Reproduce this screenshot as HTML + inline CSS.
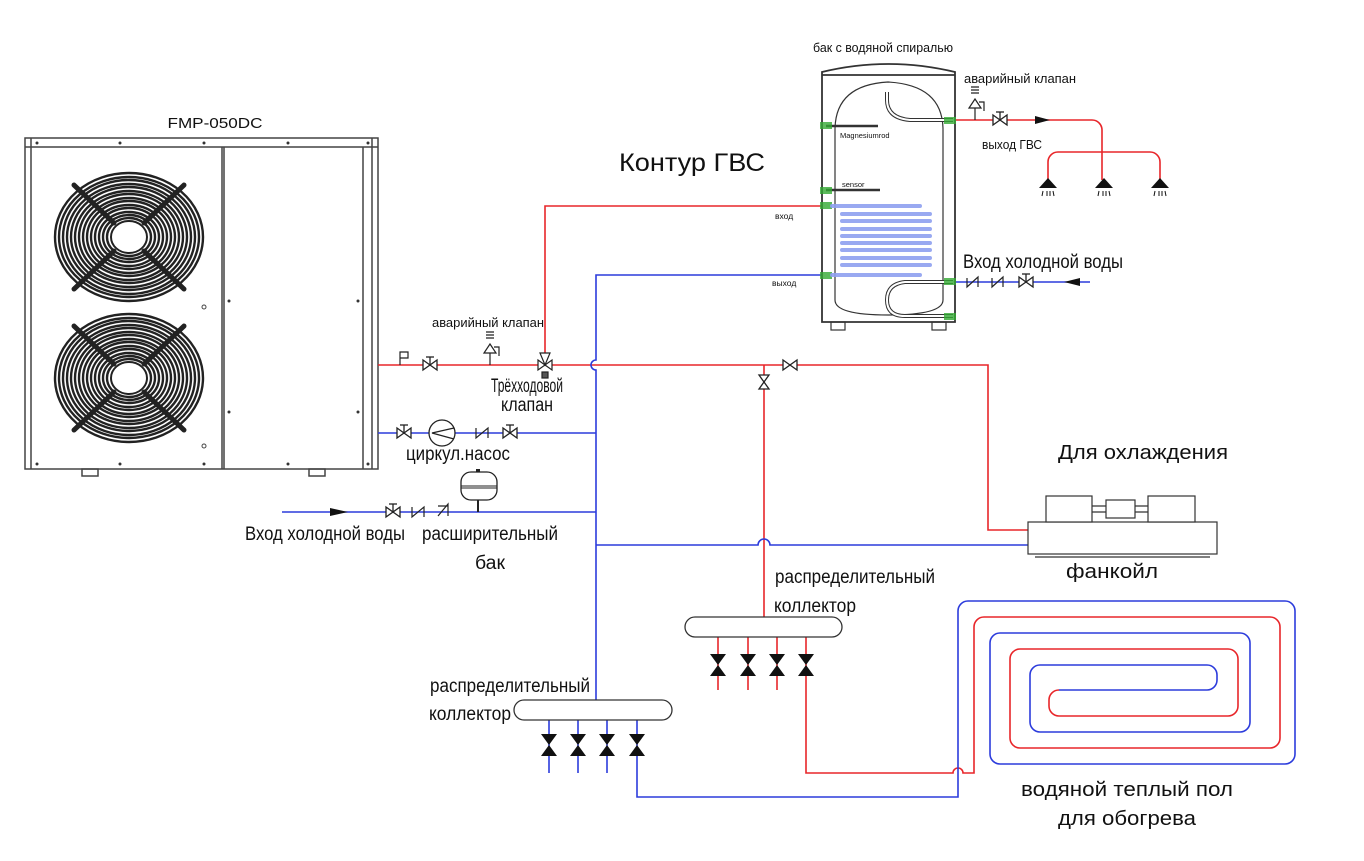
<!DOCTYPE html>
<html><head><meta charset="utf-8"><style>
html,body{margin:0;padding:0;background:#fff;}
svg{display:block;}
text{font-family:"Liberation Sans",sans-serif;fill:#111;}
</style></head><body>
<svg width="1364" height="861" viewBox="0 0 1364 861" xmlns="http://www.w3.org/2000/svg">
<defs>
<g id="fan">
<g fill="none" stroke="#222" stroke-width="2.4">
<ellipse rx="74" ry="64"/><ellipse rx="70" ry="60"/><ellipse rx="66" ry="57"/><ellipse rx="62" ry="53"/><ellipse rx="58" ry="50"/><ellipse rx="54" ry="46"/><ellipse rx="50" ry="43"/><ellipse rx="46" ry="39"/><ellipse rx="42" ry="36"/><ellipse rx="38" ry="32"/><ellipse rx="34" ry="29"/><ellipse rx="30" ry="25"/><ellipse rx="26" ry="22"/><ellipse rx="22" ry="19"/>
</g>
<ellipse rx="18" ry="16" fill="#fff" stroke="#222" stroke-width="2"/>
<g stroke="#222" stroke-width="5" stroke-linecap="round">
<line x1="-55" y1="-52" x2="-15" y2="-14"/><line x1="55" y1="-52" x2="15" y2="-14"/>
<line x1="-55" y1="52" x2="-15" y2="14"/><line x1="55" y1="52" x2="15" y2="14"/>
</g>
</g>
<g id="vh"><path d="M-7,-5 L7,5 L7,-5 L-7,5 Z" fill="#fff" stroke="#222" stroke-width="1.3"/><line x1="0" y1="0" x2="0" y2="-8" stroke="#222" stroke-width="1.3"/><line x1="-4" y1="-8" x2="4" y2="-8" stroke="#222" stroke-width="1.3"/></g>
<g id="bow"><path d="M-7,-5 L7,5 L7,-5 L-7,5 Z" fill="#fff" stroke="#222" stroke-width="1.3"/></g>
<g id="kv"><path d="M-8,-11 L8,-11 L-8,11 L8,11 Z" fill="#111"/></g>
<g id="shower"><path d="M-9,6 L0,-4 L9,6 Z" fill="#111"/><g stroke="#111" stroke-width="1"><line x1="-5" y1="9" x2="-6" y2="14"/><line x1="-1" y1="9" x2="-1" y2="14"/><line x1="2" y1="9" x2="2" y2="14"/><line x1="5" y1="9" x2="6" y2="14"/></g></g>
</defs>

<text x="215" y="128" font-size="15" text-anchor="middle" textLength="95" lengthAdjust="spacingAndGlyphs">FMP-050DC</text>
<g fill="none" stroke="#444" stroke-width="1.5">
<rect x="25" y="138" width="353" height="331"/>
<line x1="25" y1="147" x2="378" y2="147"/>
<line x1="31" y1="138" x2="31" y2="469"/>
<line x1="222" y1="147" x2="222" y2="469"/>
<line x1="224" y1="147" x2="224" y2="469"/>
<line x1="363" y1="147" x2="363" y2="469"/>
<line x1="372" y1="138" x2="372" y2="469"/>
<rect x="82" y="469" width="16" height="7"/>
<rect x="309" y="469" width="16" height="7"/>
</g>
<g fill="#333">
<circle cx="37" cy="143" r="1.5"/><circle cx="120" cy="143" r="1.5"/><circle cx="204" cy="143" r="1.5"/><circle cx="288" cy="143" r="1.5"/><circle cx="368" cy="143" r="1.5"/>
<circle cx="37" cy="464" r="1.5"/><circle cx="120" cy="464" r="1.5"/><circle cx="204" cy="464" r="1.5"/><circle cx="288" cy="464" r="1.5"/><circle cx="368" cy="464" r="1.5"/>
<circle cx="229" cy="301" r="1.5"/><circle cx="358" cy="301" r="1.5"/><circle cx="229" cy="412" r="1.5"/><circle cx="358" cy="412" r="1.5"/>
</g>
<circle cx="204" cy="307" r="2" fill="none" stroke="#444"/><circle cx="204" cy="446" r="2" fill="none" stroke="#444"/>
<use href="#fan" x="129" y="237"/>
<use href="#fan" x="129" y="378"/>

<g fill="none" stroke-width="1.6">
<path d="M378,365 H988 V530 H1028" stroke="#e8262a"/>
<path d="M545,365 V206 H822" stroke="#e8262a"/>
<path d="M764,365 V617" stroke="#e8262a"/>
<path d="M596,700 V370 A5,5 0 0 1 596,360 V275 H822" stroke="#2c3cdc"/>
<path d="M378,433 H596" stroke="#2c3cdc"/>
<path d="M282,512 H596" stroke="#2c3cdc"/>
<path d="M596,545 H758 A6,6 0 0 1 770,545 H1028" stroke="#2c3cdc"/>
<path d="M806,676 V773 H953 A5,5 0 0 1 963,773 H974 V627 A10,10 0 0 1 984,617 H1270 A10,10 0 0 1 1280,627 V738 A10,10 0 0 1 1270,748 H1020 A10,10 0 0 1 1010,738 V659 A10,10 0 0 1 1020,649 H1228 A10,10 0 0 1 1238,659 V706 A10,10 0 0 1 1228,716 H1059 A10,10 0 0 1 1049,706 V700 A10,10 0 0 1 1059,690" stroke="#e8262a"/>
<path d="M637,755 V797 H958 V611 A10,10 0 0 1 968,601 H1285 A10,10 0 0 1 1295,611 V754 A10,10 0 0 1 1285,764 H1000 A10,10 0 0 1 990,754 V643 A10,10 0 0 1 1000,633 H1240 A10,10 0 0 1 1250,643 V722 A10,10 0 0 1 1240,732 H1040 A10,10 0 0 1 1030,722 V675 A10,10 0 0 1 1040,665 H1207 A10,10 0 0 1 1217,675 V680 A10,10 0 0 1 1207,690 H1059" stroke="#2c3cdc"/>
<g stroke="#e8262a"><line x1="718" y1="637" x2="718" y2="690"/><line x1="748" y1="637" x2="748" y2="690"/><line x1="777" y1="637" x2="777" y2="690"/><line x1="806" y1="637" x2="806" y2="676"/></g>
<g stroke="#2c3cdc"><line x1="549" y1="720" x2="549" y2="773"/><line x1="578" y1="720" x2="578" y2="773"/><line x1="607" y1="720" x2="607" y2="773"/><line x1="637" y1="720" x2="637" y2="755"/></g>
<path d="M955,120 H1092 A10,10 0 0 1 1102,130 V180" stroke="#e8262a"/>
<path d="M1048,180 V162 A10,10 0 0 1 1058,152 H1150 A10,10 0 0 1 1160,162 V180" stroke="#e8262a"/>
<path d="M955,282 H1090" stroke="#2c3cdc"/>
</g>
<path d="M1035,116 L1050,120 L1035,124 Z" fill="#111"/>
<path d="M1080,278 L1064,282 L1080,286 Z" fill="#111"/>
<path d="M330,508 L348,512 L330,516 Z" fill="#111"/>

<rect x="685" y="617" width="157" height="20" rx="10" fill="#fff" stroke="#333" stroke-width="1.3"/>
<rect x="514" y="700" width="158" height="20" rx="10" fill="#fff" stroke="#333" stroke-width="1.3"/>
<use href="#kv" x="718" y="665"/><use href="#kv" x="748" y="665"/><use href="#kv" x="777" y="665"/><use href="#kv" x="806" y="665"/>
<use href="#kv" x="549" y="745"/><use href="#kv" x="578" y="745"/><use href="#kv" x="607" y="745"/><use href="#kv" x="637" y="745"/>

<path d="M400,365 V352 H408 V358 H400" fill="none" stroke="#222" stroke-width="1.2"/>
<use href="#vh" x="430" y="365"/>
<g fill="none" stroke="#222" stroke-width="1.2">
<line x1="490" y1="365" x2="490" y2="353"/>
<path d="M484,353 L496,353 L490,344 Z" fill="#fff"/>
<path d="M486,338 H494 M486,335 H494 M486,332 H494"/>
<path d="M494,347 H499 V356"/>
</g>
<g stroke="#222" stroke-width="1.2" fill="#fff"><path d="M538,360 L552,370 L552,360 L538,370 Z"/><path d="M540,353 L550,353 L545,365 Z"/><rect x="542" y="372" width="6" height="6" fill="#555"/></g>
<use href="#vh" x="404" y="433"/>
<circle cx="442" cy="433" r="13" fill="#fff" stroke="#222" stroke-width="1.3"/>
<path d="M454,428 L432,433 L454,439" fill="none" stroke="#222" stroke-width="1.2"/>
<path d="M476,428 L476,438 L488,428 L488,438" fill="none" stroke="#222" stroke-width="1.2"/>
<use href="#vh" x="510" y="433"/>
<use href="#vh" x="393" y="512"/>
<path d="M412,507 L412,517 L424,507 L424,517" fill="none" stroke="#222" stroke-width="1.2"/>
<path d="M438,506 L448,506 M438,516 L448,504 V516" fill="none" stroke="#222" stroke-width="1.2"/>
<line x1="478" y1="500" x2="478" y2="512" stroke="#222" stroke-width="2"/>
<rect x="461" y="472" width="36" height="28" rx="10" fill="#fff" stroke="#222" stroke-width="1.3"/>
<line x1="461" y1="486" x2="497" y2="486" stroke="#222"/><line x1="461" y1="488" x2="497" y2="488" stroke="#222"/>
<rect x="476" y="469" width="4" height="3" fill="#222"/>
<use href="#bow" x="790" y="365"/>
<g transform="translate(764,382) rotate(90)"><use href="#bow"/></g>

<g fill="#fff" stroke="#333" stroke-width="1.2">
<rect x="1028" y="522" width="189" height="32"/>
<rect x="1046" y="496" width="46" height="26"/>
<rect x="1148" y="496" width="47" height="26"/>
<line x1="1092" y1="506" x2="1148" y2="506"/><line x1="1092" y1="512" x2="1148" y2="512"/>
<rect x="1106" y="500" width="29" height="18"/>
<line x1="1035" y1="557" x2="1210" y2="557"/>
</g>

<g fill="none" stroke="#333" stroke-width="1.8">
<path d="M822,322 V72 Q888,56 955,72 V322 Z" fill="#fff"/>
<line x1="822" y1="75" x2="955" y2="75"/>
<path d="M835,300 V130 Q835,85 888,82 Q943,85 943,130 V300 Q943,315 888,315 Q835,315 835,300 Z" stroke-width="1.2"/>
<rect x="831" y="322" width="14" height="8" stroke-width="1.2"/><rect x="932" y="322" width="14" height="8" stroke-width="1.2"/>
<path d="M887,92 V100 Q887,118 910,120 H953" stroke-width="4" stroke="#333"/>
<path d="M887,92 V100 Q887,118 910,120 H953" stroke-width="2" stroke="#fff"/>
<path d="M953,282 H905 Q887,284 887,300 Q887,316 905,316 H953" stroke-width="4"/>
<path d="M953,282 H905 Q887,284 887,300 Q887,316 905,316 H953" stroke-width="2" stroke="#fff"/>
<line x1="826" y1="126" x2="878" y2="126" stroke-width="2.5"/>
<line x1="826" y1="190" x2="880" y2="190" stroke-width="2.5"/>
</g>
<g fill="#3a3" opacity=".8"><rect x="820" y="122" width="12" height="7"/><rect x="820" y="187" width="12" height="7"/><rect x="820" y="202" width="12" height="7"/><rect x="820" y="272" width="12" height="7"/><rect x="944" y="117" width="12" height="7"/><rect x="944" y="278" width="12" height="7"/><rect x="944" y="313" width="12" height="7"/></g>
<g fill="none" stroke="#8ea0f0" stroke-width="4" stroke-linecap="round" opacity=".9">
<path d="M832,206 H920 M842,214 H930 M842,221 H930 M842,229 H930 M842,236 H930 M842,243 H930 M842,250 H930 M842,258 H930 M842,265 H930 M832,275 H920"/>
</g>
<text x="840" y="138" font-size="7.5">Magnesiumrod</text>
<text x="842" y="187" font-size="7.5">sensor</text>
<text x="775" y="219" font-size="8.5">вход</text>
<text x="772" y="286" font-size="8.5">выход</text>
<g fill="none" stroke="#222" stroke-width="1.2">
<line x1="975" y1="120" x2="975" y2="108"/>
<path d="M969,108 L981,108 L975,99 Z" fill="#fff"/>
<path d="M971,93 H979 M971,90 H979 M971,87 H979"/>
<path d="M979,102 H984 V111"/>
<path d="M967,278 L967,287 L978,277 L978,287"/>
<path d="M992,278 L992,287 L1003,277 L1003,287"/>
</g>
<use href="#vh" x="1000" y="120"/>
<use href="#vh" x="1026" y="282"/>
<use href="#shower" x="1048" y="182"/><use href="#shower" x="1104" y="182"/><use href="#shower" x="1160" y="182"/>

<text x="883" y="52" font-size="13" text-anchor="middle" textLength="140" lengthAdjust="spacingAndGlyphs">бак с водяной спиралью</text>
<text x="1020" y="83" font-size="13" text-anchor="middle" textLength="112" lengthAdjust="spacingAndGlyphs">аварийный клапан</text>
<text x="1012" y="149" font-size="13" text-anchor="middle" textLength="60" lengthAdjust="spacingAndGlyphs">выход ГВС</text>
<text x="692" y="171" font-size="25" text-anchor="middle" textLength="146" lengthAdjust="spacingAndGlyphs">Контур ГВС</text>
<text x="1043" y="268" font-size="19" text-anchor="middle" textLength="160" lengthAdjust="spacingAndGlyphs">Вход холодной воды</text>
<text x="488" y="327" font-size="13" text-anchor="middle" textLength="112" lengthAdjust="spacingAndGlyphs">аварийный клапан</text>
<text x="527" y="392" font-size="19" text-anchor="middle" textLength="72" lengthAdjust="spacingAndGlyphs">Трёхходовой</text>
<text x="527" y="411" font-size="19" text-anchor="middle" textLength="52" lengthAdjust="spacingAndGlyphs">клапан</text>
<text x="458" y="460" font-size="19" text-anchor="middle" textLength="104" lengthAdjust="spacingAndGlyphs">циркул.насос</text>
<text x="325" y="540" font-size="19" text-anchor="middle" textLength="160" lengthAdjust="spacingAndGlyphs">Вход холодной воды</text>
<text x="490" y="540" font-size="19" text-anchor="middle" textLength="136" lengthAdjust="spacingAndGlyphs">расширительный</text>
<text x="490" y="569" font-size="19" text-anchor="middle" textLength="30" lengthAdjust="spacingAndGlyphs">бак</text>
<text x="1143" y="459" font-size="20" text-anchor="middle" textLength="170" lengthAdjust="spacingAndGlyphs">Для охлаждения</text>
<text x="1112" y="578" font-size="20" text-anchor="middle" textLength="92" lengthAdjust="spacingAndGlyphs">фанкойл</text>
<text x="855" y="583" font-size="19" text-anchor="middle" textLength="160" lengthAdjust="spacingAndGlyphs">распределительный</text>
<text x="815" y="612" font-size="19" text-anchor="middle" textLength="82" lengthAdjust="spacingAndGlyphs">коллектор</text>
<text x="510" y="692" font-size="19" text-anchor="middle" textLength="160" lengthAdjust="spacingAndGlyphs">распределительный</text>
<text x="470" y="720" font-size="19" text-anchor="middle" textLength="82" lengthAdjust="spacingAndGlyphs">коллектор</text>
<text x="1127" y="796" font-size="20" text-anchor="middle" textLength="212" lengthAdjust="spacingAndGlyphs">водяной теплый пол</text>
<text x="1127" y="825" font-size="20" text-anchor="middle" textLength="138" lengthAdjust="spacingAndGlyphs">для обогрева</text>
</svg>
</body></html>
